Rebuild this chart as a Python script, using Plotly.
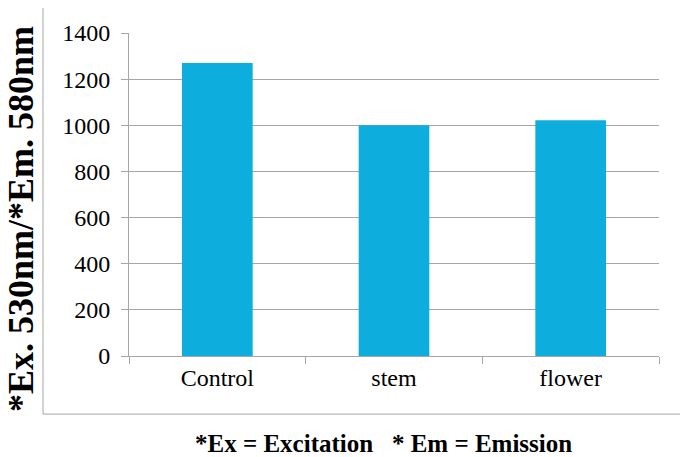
import plotly.graph_objects as go

categories = ["Control", "stem", "flower"]
values = [1270, 1000, 1022]
y_ticks = [0, 200, 400, 600, 800, 1000, 1200, 1400]

OFF = 8  # page body margin
W, H = 688 - OFF, 457 - OFF
L, T = 129 - OFF, 28 - OFF
X1, Y0 = 659 - OFF, 356 - OFF
R, B = W - X1, H - Y0
pw, ph = W - L - R, H - T - B

def px(x):
    return (x - OFF - L) / pw

def py(y):
    return (Y0 - (y - OFF)) / ph

serif = "Liberation Serif, Times New Roman, DejaVu Serif, serif"

fig = go.Figure(go.Bar(x=categories, y=values, marker=dict(color="#0DAEDE", line=dict(width=0))))

fig.update_layout(
    width=W, height=H,
    margin=dict(l=L, r=R, t=T, b=B),
    paper_bgcolor="white", plot_bgcolor="white",
    bargap=0.6,
    showlegend=False,
    font=dict(family=serif, size=24, color="black"),
    xaxis=dict(
        showline=True, linecolor="#a6a6a6", linewidth=1,
        ticks="outside", tickson="boundaries", ticklen=7, tickcolor="#a6a6a6",
        tickfont=dict(family=serif, size=24, color="black"), showgrid=False,
    ),
    yaxis=dict(
        range=[0, 1400], tickvals=y_ticks,
        showline=True, linecolor="#a6a6a6", linewidth=1,
        ticks="outside", ticklen=7, tickcolor="#a6a6a6",
        showgrid=True, gridcolor="#a6a6a6", gridwidth=1,
        tickfont=dict(family=serif, size=24, color="black"), ticklabelstandoff=6, zeroline=False,
    ),
    shapes=[dict(type="rect", xref="paper", yref="paper",
                 x0=px(43), x1=px(685), y0=py(415), y1=py(2),
                 line=dict(color="#a6a6a6", width=1), layer="below")],
    annotations=[
        dict(text="<b>*Ex. 530nm/*Em. 580nm</b>", xref="paper", yref="paper",
             x=px(21), y=py(217), textangle=-90, showarrow=False,
             font=dict(family=serif, size=36, color="black"),
             xanchor="center", yanchor="middle"),
        dict(text="<b>*Ex = Excitation\u00a0\u00a0\u00a0* Em = Emission</b>", xref="paper", yref="paper",
             x=px(383), y=py(445), showarrow=False,
             font=dict(family=serif, size=25, color="black"),
             xanchor="center", yanchor="middle"),
    ],
)

fig.write_html("out.html")
